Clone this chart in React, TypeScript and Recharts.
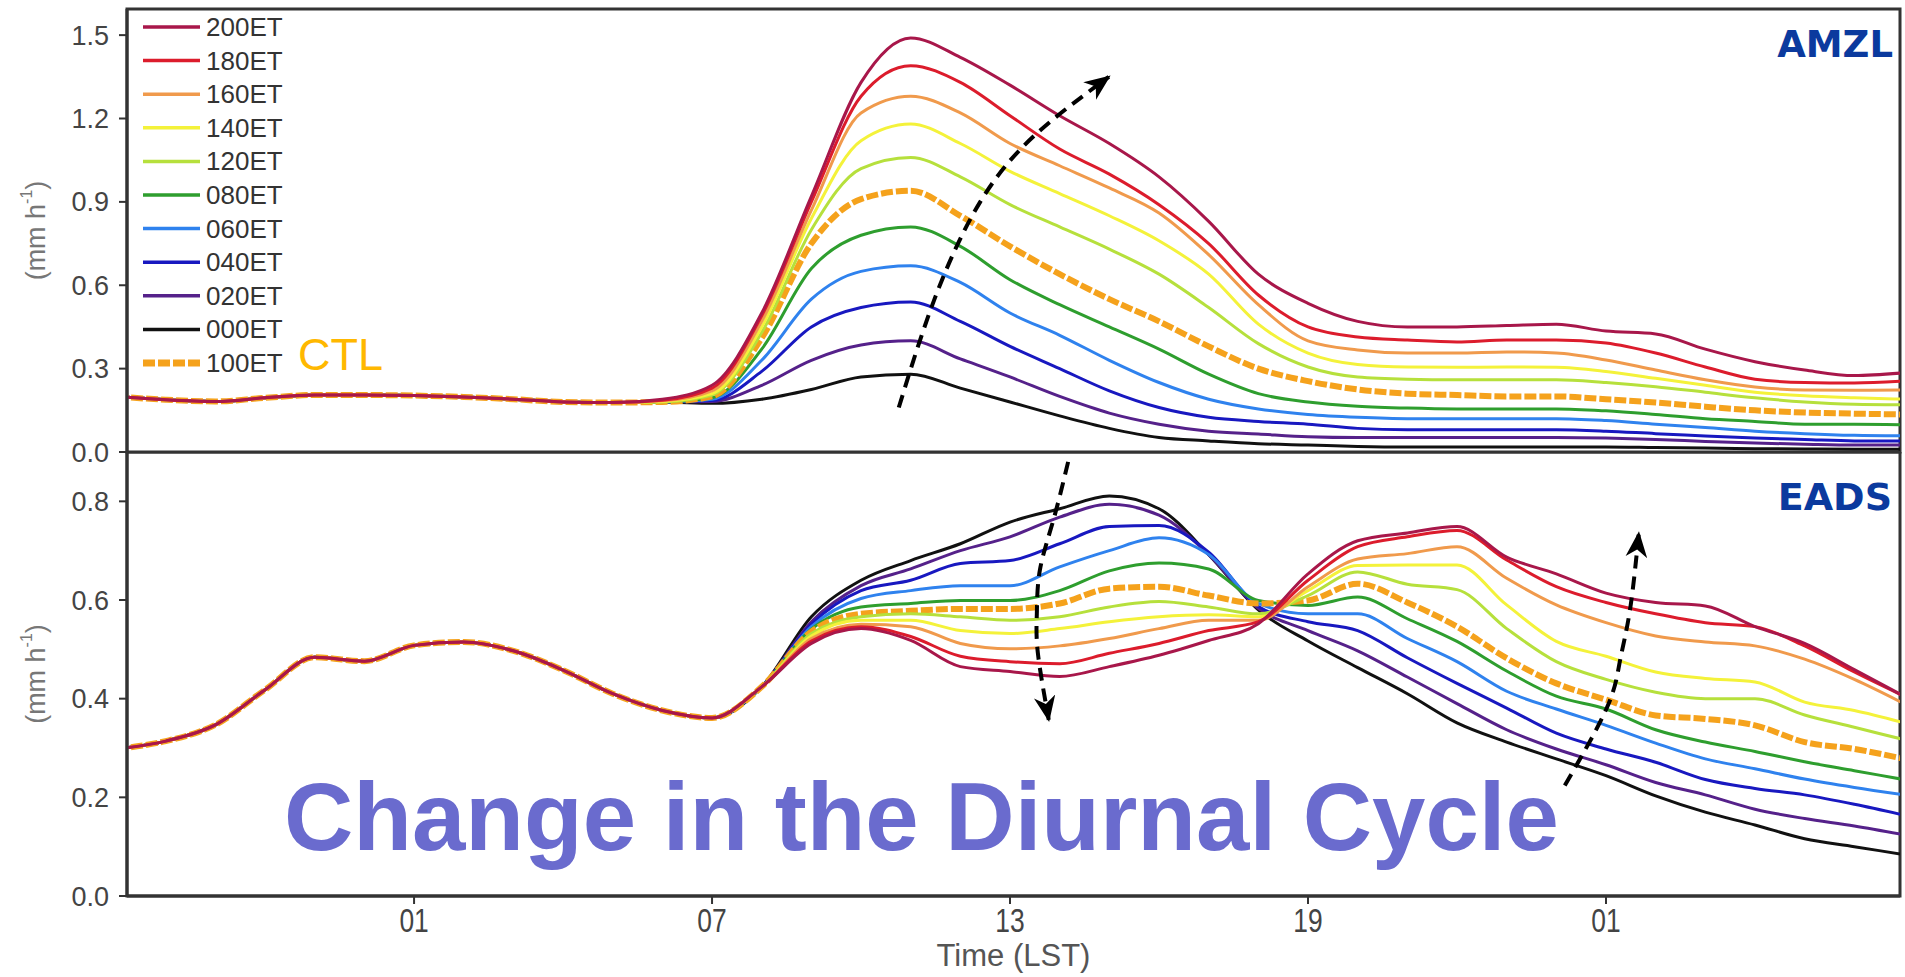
import React from 'react'
import { LineChart, Line, XAxis, YAxis, ReferenceArea, Label } from 'recharts'

const FONT = '"Liberation Sans", Arial, Helvetica, sans-serif'

// hours counted from 19 LST of the first evening
const HOURS = [0, 1, 2, 3, 4, 5, 6, 7, 8, 9, 10, 11, 12, 13, 14, 15, 16, 17, 18, 19, 20, 21, 22, 23, 24, 25, 26, 27, 28, 29, 30, 31, 32, 33, 34, 35, 36]
const X_MIN = 0.22
const X_MAX = 35.92
const X_TICKS = [6, 12, 18, 24, 30]
const X_TICK_LABELS = ['01', '07', '13', '19', '01']

const AMZL_MAX = 1.594
const AMZL_TICKS = [0, 0.3, 0.6, 0.9, 1.2, 1.5]
const EADS_MAX = 0.9
const EADS_TICKS = [0, 0.2, 0.4, 0.6, 0.8]

const LEGEND_ORDER = ['200ET', '180ET', '160ET', '140ET', '120ET', '080ET', '060ET', '040ET', '020ET', '000ET', '100ET']
const DRAW_ORDER = ['000ET', '020ET', '040ET', '060ET', '080ET', '100ET', '120ET', '140ET', '160ET', '180ET', '200ET']

// AMZL: all runs identical up to 10h, then one tail per run (11h..36h)
const AMZL_COMMON = [0.2, 0.188, 0.182, 0.195, 0.205, 0.205, 0.203, 0.198, 0.19, 0.18, 0.178]
const AMZL_200 = [0.19, 0.24, 0.5, 0.92, 1.33, 1.49, 1.42, 1.32, 1.21, 1.11, 0.99, 0.83, 0.64, 0.535, 0.47, 0.45, 0.45, 0.455, 0.46, 0.435, 0.425, 0.37, 0.325, 0.295, 0.275, 0.285]
const AMZL_180 = [0.186, 0.23, 0.49, 0.9, 1.28, 1.39, 1.33, 1.21, 1.09, 1.0, 0.89, 0.75, 0.565, 0.45, 0.414, 0.403, 0.396, 0.403, 0.403, 0.392, 0.356, 0.306, 0.262, 0.25, 0.248, 0.255]
const AMZL_160 = [0.184, 0.22, 0.47, 0.87, 1.22, 1.28, 1.22, 1.11, 1.03, 0.95, 0.86, 0.71, 0.53, 0.4, 0.367, 0.356, 0.356, 0.36, 0.356, 0.331, 0.295, 0.26, 0.234, 0.223, 0.222, 0.223]
const AMZL_140 = [0.182, 0.21, 0.45, 0.84, 1.12, 1.18, 1.11, 1.01, 0.93, 0.85, 0.76, 0.64, 0.46, 0.356, 0.315, 0.306, 0.305, 0.306, 0.305, 0.29, 0.265, 0.24, 0.215, 0.202, 0.195, 0.19]
const AMZL_120 = [0.18, 0.205, 0.43, 0.8, 1.02, 1.06, 0.99, 0.89, 0.81, 0.73, 0.64, 0.52, 0.39, 0.306, 0.27, 0.262, 0.26, 0.26, 0.26, 0.25, 0.235, 0.215, 0.195, 0.18, 0.172, 0.17]
const AMZL_100 = [0.18, 0.2, 0.41, 0.75, 0.91, 0.94, 0.85, 0.74, 0.64, 0.55, 0.47, 0.38, 0.3, 0.255, 0.225, 0.21, 0.205, 0.2, 0.2, 0.19, 0.178, 0.163, 0.15, 0.142, 0.138, 0.135]
const AMZL_080 = [0.18, 0.195, 0.37, 0.66, 0.78, 0.81, 0.74, 0.62, 0.53, 0.45, 0.37, 0.28, 0.21, 0.18, 0.165, 0.158, 0.155, 0.155, 0.155, 0.148, 0.135, 0.12, 0.11, 0.1, 0.1, 0.098]
const AMZL_060 = [0.18, 0.19, 0.33, 0.55, 0.65, 0.67, 0.61, 0.5, 0.42, 0.33, 0.25, 0.19, 0.155, 0.135, 0.125, 0.12, 0.12, 0.12, 0.12, 0.113, 0.1, 0.088, 0.075, 0.066, 0.06, 0.058]
const AMZL_040 = [0.18, 0.185, 0.29, 0.45, 0.52, 0.54, 0.47, 0.38, 0.3, 0.22, 0.16, 0.125, 0.11, 0.1, 0.085, 0.08, 0.08, 0.08, 0.08, 0.075, 0.066, 0.058, 0.05, 0.045, 0.04, 0.04]
const AMZL_020 = [0.18, 0.182, 0.24, 0.33, 0.385, 0.4, 0.335, 0.27, 0.2, 0.14, 0.1, 0.075, 0.065, 0.055, 0.052, 0.052, 0.052, 0.052, 0.052, 0.05, 0.045, 0.038, 0.032, 0.028, 0.025, 0.025]
const AMZL_000 = [0.18, 0.175, 0.19, 0.225, 0.27, 0.28, 0.23, 0.18, 0.13, 0.085, 0.052, 0.04, 0.03, 0.025, 0.02, 0.018, 0.018, 0.018, 0.018, 0.018, 0.016, 0.014, 0.012, 0.011, 0.01, 0.01]

// EADS: identical up to 13h, then one tail per run (14h..36h)
const EADS_COMMON = [0.298, 0.314, 0.347, 0.418, 0.484, 0.476, 0.508, 0.515, 0.497, 0.458, 0.41, 0.376, 0.361, 0.424]
const EADS_200 = [0.512, 0.542, 0.518, 0.465, 0.455, 0.445, 0.465, 0.488, 0.518, 0.552, 0.653, 0.72, 0.736, 0.749, 0.687, 0.653, 0.614, 0.595, 0.588, 0.546, 0.512, 0.459, 0.405]
const EADS_180 = [0.517, 0.546, 0.526, 0.486, 0.475, 0.471, 0.492, 0.512, 0.538, 0.556, 0.64, 0.708, 0.728, 0.741, 0.681, 0.627, 0.595, 0.572, 0.554, 0.546, 0.507, 0.454, 0.405]
const EADS_160 = [0.522, 0.551, 0.546, 0.512, 0.501, 0.507, 0.522, 0.542, 0.559, 0.559, 0.627, 0.683, 0.694, 0.708, 0.644, 0.59, 0.554, 0.527, 0.515, 0.507, 0.48, 0.439, 0.39]
const EADS_140 = [0.527, 0.559, 0.559, 0.538, 0.532, 0.542, 0.556, 0.566, 0.57, 0.566, 0.619, 0.67, 0.671, 0.671, 0.59, 0.516, 0.486, 0.454, 0.441, 0.434, 0.393, 0.376, 0.351]
const EADS_120 = [0.532, 0.566, 0.572, 0.566, 0.559, 0.566, 0.586, 0.597, 0.586, 0.572, 0.609, 0.657, 0.632, 0.621, 0.542, 0.475, 0.439, 0.413, 0.4, 0.4, 0.367, 0.342, 0.317]
const EADS_100 = [0.536, 0.572, 0.578, 0.582, 0.582, 0.593, 0.623, 0.627, 0.609, 0.593, 0.599, 0.633, 0.595, 0.546, 0.482, 0.431, 0.398, 0.366, 0.359, 0.346, 0.312, 0.298, 0.278]
const EADS_080 = [0.541, 0.586, 0.593, 0.599, 0.599, 0.619, 0.659, 0.675, 0.663, 0.599, 0.589, 0.606, 0.562, 0.516, 0.456, 0.405, 0.379, 0.337, 0.312, 0.293, 0.272, 0.254, 0.236]
const EADS_060 = [0.546, 0.603, 0.619, 0.629, 0.629, 0.667, 0.7, 0.726, 0.692, 0.593, 0.572, 0.572, 0.522, 0.475, 0.415, 0.379, 0.346, 0.31, 0.278, 0.258, 0.237, 0.22, 0.205]
const EADS_040 = [0.551, 0.619, 0.64, 0.674, 0.68, 0.714, 0.749, 0.751, 0.697, 0.587, 0.556, 0.538, 0.483, 0.431, 0.381, 0.33, 0.298, 0.271, 0.236, 0.218, 0.205, 0.186, 0.164]
const EADS_020 = [0.556, 0.629, 0.663, 0.7, 0.728, 0.768, 0.794, 0.772, 0.692, 0.583, 0.538, 0.497, 0.444, 0.39, 0.337, 0.298, 0.266, 0.23, 0.205, 0.176, 0.157, 0.142, 0.124]
const EADS_000 = [0.566, 0.64, 0.68, 0.714, 0.758, 0.785, 0.811, 0.785, 0.692, 0.58, 0.517, 0.463, 0.41, 0.351, 0.312, 0.278, 0.244, 0.203, 0.17, 0.144, 0.116, 0.1, 0.084]

// dashed arrows, in (hour, value) pairs, tail first
const ARROW_AMZL_H = [15.76, 16.5, 17.4, 18.5, 19.99]
const ARROW_AMZL_V = [0.16, 0.56, 0.9, 1.14, 1.35]
const ARROW_EADS1_H = [19.17, 18.87, 18.6, 18.54, 18.56, 18.78]
const ARROW_EADS1_V = [0.88, 0.761, 0.66, 0.573, 0.493, 0.357]
const ARROW_EADS2_H = [29.17, 30.02, 30.28, 30.48, 30.66]
const ARROW_EADS2_V = [0.224, 0.382, 0.476, 0.578, 0.735]

const KEY: Record<string, string> = {
  '200ET': 'e200', '180ET': 'e180', '160ET': 'e160', '140ET': 'e140', '120ET': 'e120',
  '100ET': 'e100', '080ET': 'e080', '060ET': 'e060', '040ET': 'e040', '020ET': 'e020', '000ET': 'e000',
}

const COLORS: Record<string, string> = {
  '200ET': '#A8174A',
  '180ET': '#DC1C2C',
  '160ET': '#F09A4C',
  '140ET': '#F4F23A',
  '120ET': '#B6E03C',
  '080ET': '#2E9E2E',
  '060ET': '#2F82EE',
  '040ET': '#1818C0',
  '020ET': '#55218A',
  '000ET': '#111111',
  '100ET': '#F5A21C',
}

const AMZL: Record<string, number[]> = {
  '200ET': [...AMZL_COMMON, ...AMZL_200],
  '180ET': [...AMZL_COMMON, ...AMZL_180],
  '160ET': [...AMZL_COMMON, ...AMZL_160],
  '140ET': [...AMZL_COMMON, ...AMZL_140],
  '120ET': [...AMZL_COMMON, ...AMZL_120],
  '100ET': [...AMZL_COMMON, ...AMZL_100],
  '080ET': [...AMZL_COMMON, ...AMZL_080],
  '060ET': [...AMZL_COMMON, ...AMZL_060],
  '040ET': [...AMZL_COMMON, ...AMZL_040],
  '020ET': [...AMZL_COMMON, ...AMZL_020],
  '000ET': [...AMZL_COMMON, ...AMZL_000],
}

const EADS: Record<string, number[]> = {
  '200ET': [...EADS_COMMON, ...EADS_200],
  '180ET': [...EADS_COMMON, ...EADS_180],
  '160ET': [...EADS_COMMON, ...EADS_160],
  '140ET': [...EADS_COMMON, ...EADS_140],
  '120ET': [...EADS_COMMON, ...EADS_120],
  '100ET': [...EADS_COMMON, ...EADS_100],
  '080ET': [...EADS_COMMON, ...EADS_080],
  '060ET': [...EADS_COMMON, ...EADS_060],
  '040ET': [...EADS_COMMON, ...EADS_040],
  '020ET': [...EADS_COMMON, ...EADS_020],
  '000ET': [...EADS_COMMON, ...EADS_000],
}

const toRows = (table: Record<string, number[]>) =>
  HOURS.map((h, i) => {
    const row: any = { h }
    DRAW_ORDER.forEach((n) => { row[KEY[n]] = table[n][i] })
    return row
  })

const arrowRows = (hs: number[], vs: number[]) => hs.map((h, i) => ({ h, v: vs[i] }))

const amzlRows = toRows(AMZL)
const eadsRows = toRows(EADS)

const fmt = (v: number) => v.toFixed(1)

const renderXTick = (props: any) => {
  const { x, y, payload } = props
  const label = X_TICK_LABELS[X_TICKS.indexOf(payload.value)]
  return (
    <g transform={`translate(${x},${y})`}>
      <text transform="scale(0.8,1)" textAnchor="middle" dy="0.72em" fontSize={33} fill="#444" fontFamily={FONT}>
        {label}
      </text>
    </g>
  )
}

const renderYLabel = (props: any) => {
  const vb = props.viewBox || {}
  const cx = 36
  const cy = vb.y + vb.height / 2
  return (
    <text
      x={cx}
      y={cy}
      transform={`rotate(-90 ${cx} ${cy})`}
      textAnchor="middle"
      dominantBaseline="central"
      fontSize={27}
      fill="#777"
      fontFamily={FONT}
    >
      (mm h<tspan dy={-10} fontSize={16}>-1</tspan>
      <tspan dy={10}>)</tspan>
    </text>
  )
}

const renderXLabel = (props: any) => {
  const vb = props.viewBox || {}
  return (
    <text x={vb.x + vb.width / 2} y={vb.y + 70} textAnchor="middle" fontSize={31} fill="#555" fontFamily={FONT}>
      Time (LST)
    </text>
  )
}

const seriesLines = () =>
  DRAW_ORDER.map((n) => (
    <Line
      key={n}
      dataKey={KEY[n]}
      name={n}
      type="monotone"
      stroke={COLORS[n]}
      strokeWidth={n === '100ET' ? 6 : 3}
      strokeDasharray={n === '100ET' ? '12 3' : undefined}
      dot={false}
      activeDot={false}
      isAnimationActive={false}
    />
  ))

const arrowLine = (hs: number[], vs: number[], marker: string, id: string) => (
  <Line
    key={id}
    data={arrowRows(hs, vs)}
    dataKey="v"
    type="natural"
    stroke="#000"
    strokeWidth={4}
    strokeDasharray="13 8"
    dot={false}
    activeDot={false}
    legendType="none"
    isAnimationActive={false}
    markerEnd={`url(#${marker})`}
  />
)

const arrowMarker = (id: string) => (
  <marker id={id} viewBox="0 0 24 20" refX="22" refY="10" markerWidth="26" markerHeight="22" markerUnits="userSpaceOnUse" orient="auto">
    <path d="M0,0 L24,10 L0,20 L7,10 Z" fill="#000" />
  </marker>
)

const axisStroke = { stroke: '#333', strokeWidth: 3 }
const tickStroke = { stroke: '#333', strokeWidth: 2 }
const yTick = { fontSize: 27, fill: '#444', fontFamily: FONT }

export default function App() {
  return (
    <div style={{ position: 'absolute', left: 0, top: 0, width: 1905, height: 977, background: '#fff', fontFamily: FONT, overflow: 'hidden' }}>
      <div style={{ position: 'absolute', left: 0, top: 0 }}>
        <LineChart width={1905} height={475} data={amzlRows} margin={{ top: 9, right: 5, bottom: 23, left: 0 }}>
          <defs>{arrowMarker('arrowAmzl')}</defs>
          <XAxis type="number" dataKey="h" domain={[X_MIN, X_MAX]} allowDataOverflow hide height={0} />
          <YAxis
            type="number"
            domain={[0, AMZL_MAX]}
            ticks={AMZL_TICKS}
            interval={0}
            tickFormatter={fmt}
            width={127}
            tickSize={8}
            tickMargin={10}
            tick={yTick}
            axisLine={axisStroke}
            tickLine={tickStroke}
            allowDataOverflow
          >
            <Label content={renderYLabel} />
          </YAxis>
          <ReferenceArea x1={X_MIN} x2={X_MAX} y1={0} y2={AMZL_MAX} fill="none" stroke="#333" strokeWidth={3} />
          {seriesLines()}
          {arrowLine(ARROW_AMZL_H, ARROW_AMZL_V, 'arrowAmzl', 'arrowA')}
        </LineChart>
      </div>

      <div style={{ position: 'absolute', left: 0, top: 452 }}>
        <LineChart width={1905} height={525} data={eadsRows} margin={{ top: 0, right: 5, bottom: 0, left: 0 }}>
          <defs>{arrowMarker('arrowEads')}</defs>
          <XAxis
            type="number"
            dataKey="h"
            domain={[X_MIN, X_MAX]}
            allowDataOverflow
            ticks={X_TICKS}
            interval={0}
            height={81}
            tickSize={8}
            tickMargin={4}
            tick={renderXTick}
            axisLine={axisStroke}
            tickLine={tickStroke}
          >
            <Label content={renderXLabel} />
          </XAxis>
          <YAxis
            type="number"
            domain={[0, EADS_MAX]}
            ticks={EADS_TICKS}
            interval={0}
            tickFormatter={fmt}
            width={127}
            tickSize={8}
            tickMargin={10}
            tick={yTick}
            axisLine={axisStroke}
            tickLine={tickStroke}
            allowDataOverflow
          >
            <Label content={renderYLabel} />
          </YAxis>
          <ReferenceArea x1={X_MIN} x2={X_MAX} y1={0} y2={EADS_MAX} fill="none" stroke="#333" strokeWidth={3} />
          {seriesLines()}
          {arrowLine(ARROW_EADS1_H, ARROW_EADS1_V, 'arrowEads', 'arrowB')}
          {arrowLine(ARROW_EADS2_H, ARROW_EADS2_V, 'arrowEads', 'arrowC')}
        </LineChart>
      </div>

      <svg width={1905} height={977} style={{ position: 'absolute', left: 0, top: 0, pointerEvents: 'none' }}>
        {LEGEND_ORDER.map((n, i) => {
          const y = 27 + i * 33.6
          const ctl = n === '100ET'
          return (
            <g key={n}>
              <line x1={143} x2={200} y1={y} y2={y} stroke={COLORS[n]} strokeWidth={ctl ? 7 : 3.5} strokeDasharray={ctl ? '12 3' : undefined} />
              <text x={206} y={y} dominantBaseline="central" fontSize={26} fill="#333" fontFamily={FONT}>
                {n}
              </text>
            </g>
          )
        })}
        <text x={298} y={370} fontSize={45} fill="#FFB800" fontFamily={FONT}>CTL</text>
        <text x={1893} y={57} textAnchor="end" fontSize={37} fontWeight="bold" fill="#0B3A9E" fontFamily='"DejaVu Sans", sans-serif'>AMZL</text>
        <text x={1892} y={510} textAnchor="end" fontSize={38} fontWeight="bold" fill="#0B3A9E" fontFamily='"DejaVu Sans", sans-serif'>EADS</text>
        <text x={284} y={850} fontSize={96} fontWeight="bold" fill="#6A6BCE" fontFamily={FONT}>
          Change in the Diurnal Cycle
        </text>
      </svg>
    </div>
  )
}
